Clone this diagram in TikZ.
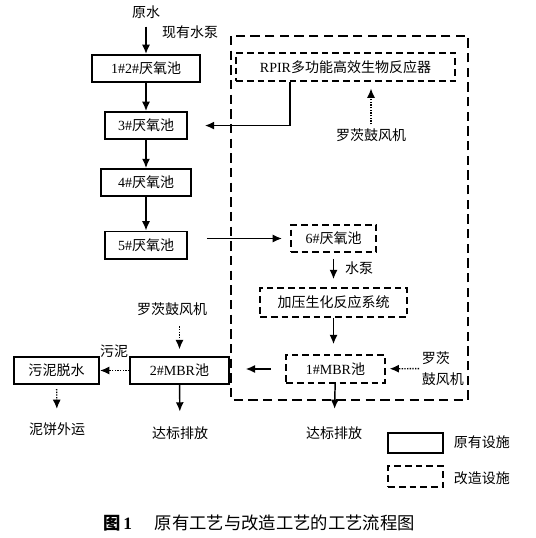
\documentclass[tikz,border=0pt]{standalone}
\usepackage{fontspec}
\setmainfont{Liberation Serif}
\newfontfamily\cjk{Noto Sans CJK SC}
\usetikzlibrary{positioning, arrows.meta}

\tikzset{
  old/.style={draw, line width=1.3pt, minimum height=20.5pt, inner sep=0pt},
  new/.style={draw, line width=1.2pt, dash pattern=on 5pt off 3pt, minimum height=20.5pt, inner sep=0pt},
  zone/.style={draw, line width=1.8pt, dash pattern=on 7pt off 4pt},
  flow/.style={-{Latex[length=7pt,width=6pt]}, line width=1.1pt},
  air/.style={-{Latex[length=7pt,width=6pt]}, line width=1pt, densely dotted},
  lbl/.style={inner sep=2pt},
}

\begin{document}
\begin{tikzpicture}[x=0.75pt, y=-0.75pt, font=\fontsize{10.5}{12}\selectfont]
\useasboundingbox (0,0) rectangle (535,538);

% existing line
\node[lbl] (raw) at (146,12) {\cjk 原水};
\node[lbl] (pump0) at (190,32) {\cjk 现有水泵};
\node[old, minimum width=81pt] (a12) at (146,68.5) {1\#2\#{\cjk 厌氧池}};
\node[old, minimum width=62pt, below=21pt of a12] (a3) {3\#{\cjk 厌氧池}};
\node[old, minimum width=68pt, below=21pt of a3] (a4) {4\#{\cjk 厌氧池}};
\node[old, minimum width=62pt, below=25pt of a4] (a5) {5\#{\cjk 厌氧池}};

\draw [flow, shorten <=4pt] (raw) -- (a12);
\draw [flow] (a12) -- (a3);
\draw [flow] (a3) -- (a4);
\draw [flow] (a4) -- (a5);

% retrofit zone
\draw [zone] (231,36) rectangle (468,400);
\node[new, minimum width=164pt, minimum height=21pt] (rpir) at (345.5,67) {RPIR{\cjk 多功能高效生物反应器}};
\node[lbl] (fan1) at (371,135) {\cjk 罗茨鼓风机};
\coordinate (a3in) at ([xshift=12.5pt]a3.east);
\draw [flow] ([xshift=-41.5pt]rpir.south) |- (a3in);
\draw [air, shorten <=1pt, shorten >=5pt] (fan1) -- (fan1 |- rpir.south);

\node[new, minimum width=64pt] (b6) at (333.5,238.5) {6\#{\cjk 厌氧池}};
\draw [flow, shorten <=14pt, shorten >=6pt] (a5.east |- b6) -- (b6);

\node[new, minimum width=110pt, minimum height=21.75pt] (press) at (333.5,302.5) {\cjk 加压生化反应系统};
\node[lbl] (pump1) at (359,268) {\cjk 水泵};
\draw [flow, shorten <=4.5pt, shorten >=6pt] (b6) -- (b6 |- press.north);

\node[new, minimum width=74pt, minimum height=21pt] (m1) at (335.5,369) {1\#MBR{\cjk 池}};
\draw [flow, shorten >=7.5pt] (press) -- (press |- m1.north);
\node[lbl, anchor=west, align=left, font=\fontsize{10.5}{15.75}\selectfont\cjk] (fan3) at (419,368.5) {罗茨\\鼓风机};
\draw [air, shorten >=3pt] (fan3) -- (m1);
\node[lbl] (out1) at (334,433) {\cjk 达标排放};
\draw [flow, shorten >=11pt] (m1) -- (out1);

% existing MBR and sludge
\node[old, minimum width=74pt] (m2) at (179.5,370.5) {2\#MBR{\cjk 池}};
\draw [flow, shorten <=11pt, shorten >=12pt] (m1) -- (m1 -| m2.east);
\node[lbl] (fan2) at (172,309) {\cjk 罗茨鼓风机};
\draw [air, shorten <=6pt, shorten >=5pt] (fan2.south -| m2) -- (m2.north);
\node[lbl] (out2) at (180,433) {\cjk 达标排放};
\draw [flow, shorten >=9pt] (m2) -- (out2);

\node[old, minimum width=64pt] (sl) at (56.5,370.5) {\cjk 污泥脱水};
\node[lbl] (mud) at (114,351) {\cjk 污泥};
\draw [air] (m2) -- (sl);
\node[lbl] (cake) at (57,429) {\cjk 泥饼外运};
\draw [air, shorten <=3pt, shorten >=8pt] (sl) -- (cake);

% legend
\node[old, minimum width=41pt, minimum height=15pt] (keyold) at (415.5,443) {};
\node[lbl, anchor=west] (keyoldtxt) at (451,442) {\cjk 原有设施};
\node[new, minimum width=41pt, minimum height=15.5pt] (keynew) at (415.5,476.5) {};
\node[lbl, anchor=west] (keynewtxt) at (451,478) {\cjk 改造设施};

% caption
\node[inner sep=0pt, anchor=west, font=\fontsize{13}{15}\selectfont] (cap) at (103,523)
  {{\cjk\bfseries 图}\,\textbf{1}\hspace{17pt}{\cjk 原有工艺与改造工艺的工艺流程图}};
\end{tikzpicture}
\end{document}
